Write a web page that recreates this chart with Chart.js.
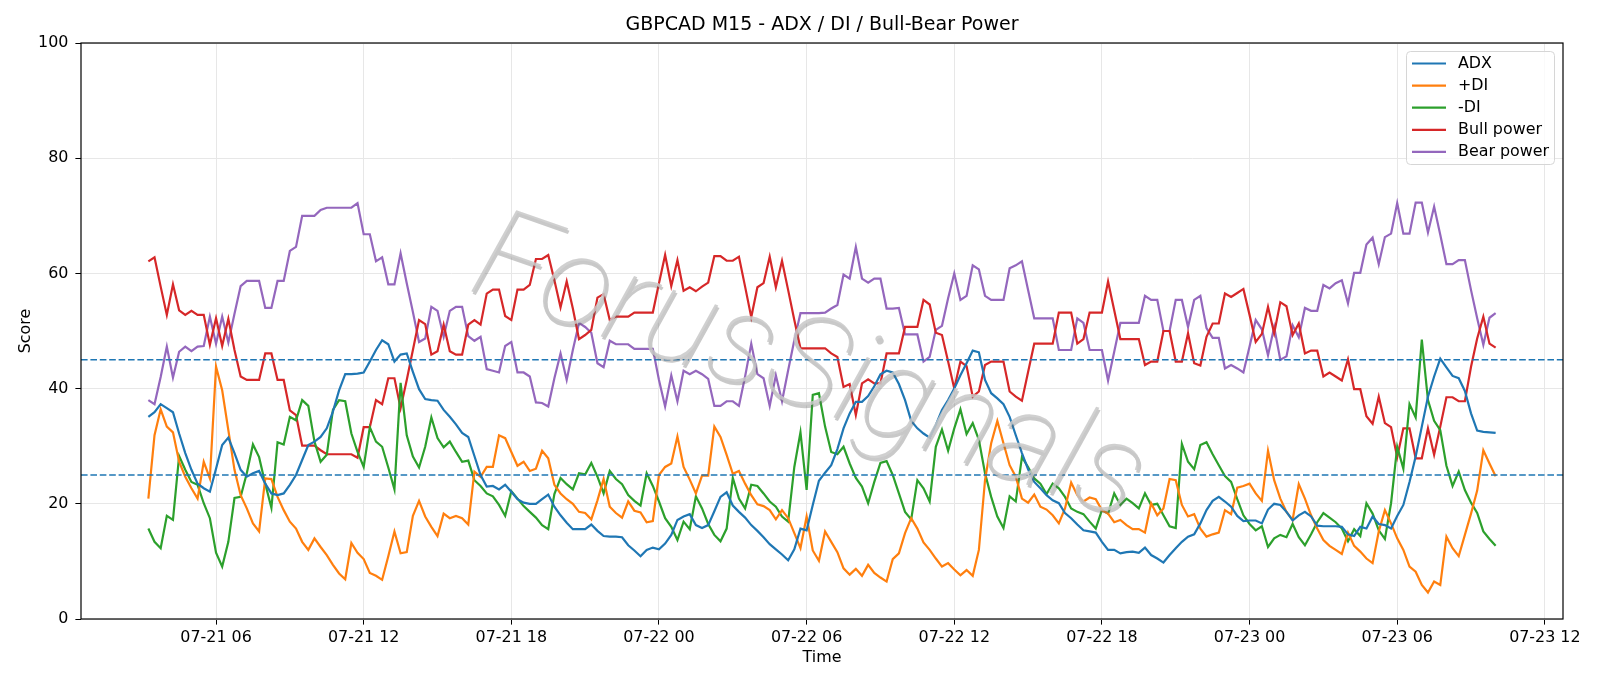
<!DOCTYPE html>
<html>
<head>
<meta charset="utf-8">
<title>GBPCAD M15 - ADX / DI / Bull-Bear Power</title>
<script src="https://cdn.jsdelivr.net/npm/chart.js@4.4.1/dist/chart.umd.min.js"></script>
<style>
  html, body { margin: 0; padding: 0; background: #fff; }
  #wrap { width: 1600px; height: 686px; }
</style>
</head>
<body>
<div id="wrap"><canvas id="chart" width="1600" height="686"></canvas></div>
<script>
// M15 bars, first bar 07-21 03:15, hours counted from 07-21 00:00
const startHour = 3.25;
const stepHour = 0.25;

const adx = [
  35.1, 35.9, 37.3, 36.6, 35.9, 32.2, 28.8, 25.9, 23.5, 22.7, 22.1, 26.1, 30.2, 31.5, 28.8, 25.9, 24.7, 25.3, 25.7, 23.5,
  21.8, 21.5, 21.8, 23.3, 25.0, 27.6, 30.2, 30.8, 31.6, 33.1, 36.0, 39.7, 42.5, 42.5, 42.6, 42.8, 44.7, 46.7, 48.4, 47.7,
  44.7, 45.9, 46.1, 42.9, 39.9, 38.2, 38.0, 37.9, 36.3, 35.1, 33.8, 32.3, 31.6, 28.3, 25.0, 23.0, 23.1, 22.5, 23.3, 22.1,
  20.8, 20.2, 20.0, 20.0, 20.8, 21.6, 19.5, 18.0, 16.7, 15.6, 15.6, 15.6, 16.4, 15.3, 14.4, 14.3, 14.3, 14.2, 12.8, 11.9,
  10.9, 12.0, 12.4, 12.1, 13.1, 14.6, 17.2, 17.8, 18.2, 16.3, 15.8, 16.3, 18.7, 21.2, 22.0, 19.7, 18.6, 17.6, 16.3, 15.3,
  14.2, 13.0, 12.1, 11.2, 10.2, 12.1, 15.7, 15.4, 19.8, 24.0, 25.4, 26.7, 29.5, 33.1, 35.7, 37.7, 37.7, 38.7, 40.4, 42.5,
  43.1, 42.8, 40.8, 38.0, 34.4, 33.1, 32.2, 31.5, 33.7, 36.3, 38.0, 40.0, 42.3, 44.4, 46.6, 46.3, 41.5, 39.2, 38.3, 37.3,
  35.1, 31.9, 28.8, 26.0, 23.8, 22.7, 21.5, 20.6, 20.1, 18.4, 17.5, 16.4, 15.4, 15.2, 15.0, 13.4, 12.0, 12.0, 11.4, 11.6,
  11.7, 11.5, 12.4, 11.1, 10.5, 9.8, 11.1, 12.3, 13.4, 14.3, 14.7, 16.6, 18.9, 20.5, 21.2, 20.4, 19.5, 17.9, 17.0, 17.1,
  17.1, 16.6, 19.0, 20.0, 19.8, 18.6, 17.1, 18.0, 18.6, 17.8, 16.2, 16.1, 16.1, 16.1, 16.0, 14.7, 14.4, 16.0, 15.7, 17.8,
  16.5, 16.3, 15.7, 17.9, 19.8, 23.8, 28.2, 33.4, 38.6, 42.1, 45.2, 43.7, 42.2, 41.8, 39.6, 35.7, 32.7, 32.5, 32.4, 32.3
];

const plusDI = [
  20.9, 31.9, 36.4, 33.4, 32.4, 27.3, 24.7, 22.7, 20.9, 27.3, 24.4, 43.8, 39.7, 32.8, 25.9, 21.5, 19.2, 16.6, 15.2, 24.4,
  24.3, 21.2, 18.9, 16.9, 15.7, 13.4, 12.0, 14.0, 12.5, 11.1, 9.4, 7.9, 6.9, 13.2, 11.5, 10.4, 8.0, 7.5, 6.8, 10.9,
  15.2, 11.4, 11.6, 17.9, 20.5, 17.8, 16.0, 14.4, 18.3, 17.5, 17.9, 17.5, 16.4, 25.6, 24.7, 26.4, 26.4, 31.9, 31.4, 29.0,
  26.6, 27.3, 25.7, 26.1, 29.2, 27.9, 23.3, 21.8, 20.8, 20.0, 18.6, 18.4, 17.3, 20.6, 24.3, 19.5, 18.4, 17.6, 20.4, 18.8,
  18.5, 16.8, 17.0, 25.0, 26.4, 27.0, 31.7, 26.4, 24.2, 21.8, 24.9, 24.9, 33.4, 31.6, 28.5, 25.2, 25.7, 23.5, 21.5, 19.9,
  19.6, 18.9, 17.3, 18.9, 17.5, 14.9, 12.3, 17.8, 11.9, 10.1, 15.2, 13.4, 11.6, 8.8, 7.7, 8.7, 7.5, 9.4, 8.0, 7.2,
  6.5, 10.4, 11.4, 14.9, 17.5, 15.7, 13.3, 12.0, 10.5, 9.1, 9.7, 8.6, 7.6, 8.5, 7.5, 12.0, 24.1, 30.5, 34.4, 30.5,
  26.7, 24.7, 20.9, 20.2, 21.6, 19.5, 19.0, 18.0, 16.6, 19.2, 23.7, 21.5, 20.4, 21.1, 20.8, 18.9, 18.3, 16.8, 17.2, 16.3,
  15.6, 15.6, 15.0, 20.1, 18.0, 19.2, 24.3, 24.1, 19.8, 17.8, 18.2, 15.7, 14.3, 14.7, 15.0, 18.9, 18.2, 22.8, 23.1, 23.5,
  21.8, 20.5, 29.2, 24.1, 20.9, 18.6, 17.2, 23.4, 20.9, 18.0, 15.7, 13.7, 12.7, 12.0, 11.3, 15.0, 12.7, 11.7, 10.5, 9.7,
  15.2, 18.9, 16.6, 14.0, 12.0, 9.1, 8.2, 5.9, 4.6, 6.5, 5.9, 14.3, 12.3, 10.9, 14.6, 18.3, 22.3, 29.3, 27.0, 24.8
];

const minusDI = [
  15.7, 13.4, 12.3, 17.9, 17.2, 28.3, 25.9, 23.8, 23.3, 20.1, 17.5, 11.5, 9.1, 13.4, 21.0, 21.2, 25.3, 30.3, 28.1, 23.5,
  19.3, 30.7, 30.3, 35.1, 34.5, 38.0, 37.0, 30.8, 27.3, 28.5, 36.3, 38.0, 37.8, 32.2, 29.0, 26.4, 33.3, 30.8, 29.9, 26.3,
  22.5, 41.0, 31.9, 28.2, 26.3, 29.9, 35.0, 31.4, 29.8, 30.8, 29.0, 27.3, 27.5, 24.1, 23.1, 21.8, 21.3, 19.8, 17.9, 22.2,
  20.9, 19.6, 18.6, 17.6, 16.3, 15.6, 21.7, 24.5, 23.4, 22.5, 25.3, 25.1, 27.1, 24.7, 21.8, 25.7, 24.3, 23.4, 21.5, 20.5,
  19.7, 25.3, 23.1, 20.4, 17.5, 16.0, 13.7, 16.9, 15.6, 21.3, 19.2, 16.5, 14.6, 13.5, 15.7, 24.5, 20.9, 19.2, 23.3, 23.1,
  21.8, 20.4, 19.5, 17.8, 16.9, 26.4, 32.4, 22.4, 38.9, 39.2, 33.4, 29.0, 28.6, 29.9, 27.0, 24.5, 23.0, 20.1, 23.8, 27.1,
  27.4, 25.0, 21.8, 18.6, 17.3, 24.1, 22.7, 20.4, 29.9, 32.9, 29.2, 33.1, 36.4, 32.1, 34.0, 31.1, 25.3, 21.2, 17.8, 15.8,
  21.3, 20.4, 28.1, 26.4, 24.4, 23.5, 21.7, 23.5, 22.7, 21.2, 19.2, 18.6, 18.2, 16.9, 15.7, 18.9, 18.3, 21.8, 19.8, 20.9,
  20.1, 19.2, 21.8, 19.8, 20.0, 18.0, 16.1, 15.8, 30.4, 27.3, 26.0, 30.2, 30.7, 28.6, 26.7, 24.8, 23.8, 20.8, 18.0, 16.5,
  15.4, 16.1, 12.5, 14.0, 14.6, 14.2, 16.5, 14.2, 12.8, 14.7, 16.8, 18.4, 17.6, 16.8, 15.7, 13.5, 15.6, 14.4, 20.1, 18.3,
  15.4, 13.9, 20.1, 29.9, 26.1, 37.3, 35.0, 48.5, 38.0, 34.4, 32.8, 26.6, 23.1, 25.6, 22.4, 20.2, 18.4, 15.2, 13.9, 12.7
];

const bullPower = [
  62.1, 62.8, 57.7, 52.8, 58.1, 53.6, 52.8, 53.5, 52.8, 52.8, 47.6, 52.2, 47.4, 52.1, 46.7, 42.1, 41.5, 41.5, 41.5, 46.1,
  46.1, 41.5, 41.5, 36.2, 35.4, 30.1, 30.1, 30.1, 29.3, 28.6, 28.6, 28.6, 28.6, 28.6, 28.0, 33.3, 33.3, 38.0, 37.3, 41.8,
  41.8, 36.6, 41.5, 46.7, 51.9, 51.2, 45.9, 46.5, 51.1, 46.5, 45.9, 45.9, 51.1, 51.9, 51.1, 56.5, 57.2, 57.2, 52.6, 51.9,
  57.2, 57.2, 58.0, 62.5, 62.5, 63.2, 58.8, 54.1, 58.6, 53.9, 48.6, 49.3, 50.2, 55.8, 56.4, 51.9, 52.5, 52.5, 52.5, 53.2,
  53.2, 53.2, 53.2, 58.3, 63.2, 57.8, 62.3, 57.0, 57.6, 56.9, 57.7, 58.4, 63.0, 63.0, 62.2, 62.2, 62.9, 57.7, 52.4, 57.6,
  58.3, 62.9, 57.6, 62.2, 57.1, 51.9, 47.0, 47.0, 47.0, 47.0, 47.0, 46.1, 45.5, 40.3, 40.8, 35.4, 40.9, 41.6, 40.9, 40.9,
  46.1, 46.1, 46.1, 50.7, 50.7, 50.7, 55.4, 54.6, 49.7, 49.3, 44.7, 40.0, 44.7, 43.9, 38.6, 39.5, 44.1, 44.7, 44.7, 44.7,
  39.5, 38.6, 37.9, 42.9, 47.8, 47.8, 47.8, 47.8, 53.2, 53.2, 53.2, 47.8, 48.6, 53.2, 53.2, 53.2, 58.6, 53.6, 48.6, 48.6,
  48.6, 48.6, 44.1, 44.7, 44.7, 50.0, 50.0, 44.7, 44.7, 49.6, 44.4, 44.0, 49.0, 51.3, 51.3, 56.5, 55.9, 56.6, 57.3, 52.8,
  48.1, 49.5, 54.2, 49.6, 55.0, 54.3, 49.3, 51.3, 46.1, 46.6, 46.6, 42.1, 42.8, 42.1, 41.4, 45.1, 39.9, 39.9, 35.2, 33.9,
  38.6, 34.0, 33.3, 28.1, 33.1, 33.1, 27.9, 27.9, 33.1, 28.5, 33.4, 38.5, 38.5, 37.8, 37.8, 43.8, 48.7, 52.5, 47.8, 47.1
];

const bearPower = [
  38.0, 37.3, 42.0, 47.3, 41.9, 46.4, 47.3, 46.5, 47.3, 47.4, 52.5, 47.8, 52.5, 48.0, 53.0, 57.8, 58.7, 58.7, 58.7, 54.0,
  54.0, 58.7, 58.7, 63.9, 64.6, 70.0, 70.0, 70.0, 71.0, 71.4, 71.4, 71.4, 71.4, 71.4, 72.2, 66.8, 66.8, 62.1, 62.8, 58.1,
  58.1, 63.5, 58.3, 53.3, 48.1, 48.7, 54.2, 53.5, 49.0, 53.5, 54.2, 54.2, 49.1, 48.3, 49.0, 43.4, 43.1, 42.8, 47.4, 48.1,
  42.8, 42.8, 42.1, 37.6, 37.5, 36.9, 41.8, 46.1, 41.5, 46.7, 51.4, 50.7, 49.7, 44.4, 43.7, 48.3, 47.7, 47.7, 47.7, 46.9,
  46.9, 46.9, 46.9, 41.5, 36.9, 42.3, 37.8, 43.1, 42.5, 43.1, 42.5, 41.7, 37.0, 37.0, 37.8, 37.8, 37.0, 42.1, 47.8, 42.5,
  41.8, 37.0, 42.3, 37.8, 43.2, 48.4, 53.1, 53.1, 53.1, 53.1, 53.2, 53.9, 54.5, 59.8, 59.1, 64.6, 59.1, 58.4, 59.1, 59.1,
  53.9, 53.9, 54.0, 49.4, 49.4, 49.4, 44.7, 45.5, 50.2, 50.9, 55.7, 60.0, 55.4, 56.1, 61.4, 60.7, 56.1, 55.4, 55.4, 55.4,
  60.9, 61.4, 62.1, 57.1, 52.2, 52.2, 52.2, 52.2, 46.7, 46.7, 46.7, 52.2, 51.4, 46.7, 46.7, 46.7, 41.4, 46.4, 51.4, 51.4,
  51.4, 51.4, 56.1, 55.4, 55.4, 50.0, 50.0, 55.4, 55.4, 50.7, 55.4, 56.1, 50.5, 48.8, 48.8, 43.5, 44.1, 43.5, 42.8, 47.3,
  51.9, 50.3, 45.8, 50.7, 45.0, 45.6, 51.0, 48.9, 54.0, 53.5, 53.5, 58.0, 57.4, 58.3, 58.8, 54.8, 60.1, 60.1, 65.0, 66.2,
  61.6, 66.3, 66.9, 72.2, 66.9, 66.9, 72.3, 72.3, 67.1, 71.6, 66.7, 61.6, 61.6, 62.3, 62.3, 57.1, 52.2, 47.6, 52.3, 53.1
];

const seriesNames = ['ADX', '+DI', '-DI', 'Bull power', 'Bear power'];
const seriesColors = ['#1f77b4', '#ff7f0e', '#2ca02c', '#d62728', '#9467bd'];

const xTickHours = [6, 12, 18, 24, 30, 36, 42, 48, 54, 60];
const xTickLabels = ['07-21 06', '07-21 12', '07-21 18', '07-22 00', '07-22 06', '07-22 12', '07-22 18', '07-23 00', '07-23 06', '07-23 12'];
const yTicks = [0, 20, 40, 60, 80, 100];
const levels = [45, 25];

const chartTitle = 'GBPCAD M15 - ADX / DI / Bull-Bear Power';
const watermarkText = 'ForusSignals';

const FONT = '"DejaVu Sans", "Liberation Sans", sans-serif';
const WM_FONT = 'Roboto, "Open Sans", sans-serif';

function toPoints(values) {
  return values.map((v, i) => ({ x: startHour + i * stepHour, y: v }));
}

const allSeries = [adx, plusDI, minusDI, bullPower, bearPower];

// x range padded like matplotlib (5% each side)
const span = (allSeries[0].length - 1) * stepHour;
const xMin = startHour - span * 0.05;
const xMax = startHour + span * 1.05;

const titlePlugin = {
  id: 'topTitle',
  afterDraw(chart) {
    const { ctx, chartArea } = chart;
    ctx.save();
    ctx.font = '19px ' + FONT;
    ctx.fillStyle = '#000';
    ctx.textAlign = 'center';
    ctx.textBaseline = 'middle';
    ctx.fillText(chartTitle, (chartArea.left + chartArea.right) / 2, 25.5);
    ctx.restore();
  }
};

const levelLines = {
  id: 'levelLines',
  afterDatasetsDraw(chart) {
    const { ctx, chartArea } = chart;
    const y = chart.scales.y;
    ctx.save();
    ctx.strokeStyle = '#1f77b4';
    ctx.lineWidth = 1.6;
    ctx.setLineDash([6.6, 2.8]);
    levels.forEach(v => {
      const py = y.getPixelForValue(v);
      ctx.beginPath();
      ctx.moveTo(chartArea.left, py);
      ctx.lineTo(chartArea.right, py);
      ctx.stroke();
    });
    ctx.restore();
  }
};

const watermark = {
  id: 'watermark',
  afterDatasetsDraw(chart) {
    const { ctx, chartArea: a } = chart;
    ctx.save();
    ctx.translate(a.left + (a.right - a.left) * 0.49, a.top + (a.bottom - a.top) * 0.575);
    ctx.rotate(0.335);
    ctx.font = 'italic 100 100px ' + WM_FONT;
    const size = 100 * 700 / ctx.measureText(watermarkText).width;
    ctx.font = 'italic 100 ' + size + 'px ' + WM_FONT;
    ctx.textAlign = 'center';
    ctx.textBaseline = 'middle';
    ctx.fillStyle = 'rgba(100,100,100,0.35)';
    ctx.fillText(watermarkText, 2, 2);
    ctx.fillStyle = 'rgba(200,200,200,0.85)';
    ctx.fillText(watermarkText, 0, 0);
    ctx.restore();
  }
};

const frame = {
  id: 'frame',
  afterDatasetsDraw(chart) {
    const { ctx, chartArea: a } = chart;
    ctx.save();
    ctx.strokeStyle = '#000';
    ctx.lineWidth = 1.2;
    ctx.strokeRect(a.left, a.top, a.right - a.left, a.bottom - a.top);
    ctx.restore();
  }
};

const legendBox = {
  id: 'legendBox',
  afterDraw(chart) {
    const { ctx } = chart;
    const left = 1406, top = 51, right = 1554, bottom = 164, r = 4;
    ctx.save();
    ctx.beginPath();
    ctx.roundRect(left + 0.5, top + 0.5, right - left, bottom - top, r);
    ctx.fillStyle = 'rgba(255,255,255,0.8)';
    ctx.fill();
    ctx.strokeStyle = '#d6d6d6';
    ctx.lineWidth = 1;
    ctx.stroke();
    ctx.font = '15.9px ' + FONT;
    ctx.textBaseline = 'middle';
    ctx.fillStyle = '#000';
    chart.data.datasets.forEach((ds, i) => {
      const y = 63.5 + i * 22.1;
      ctx.strokeStyle = ds.borderColor;
      ctx.lineWidth = 2.2;
      ctx.beginPath();
      ctx.moveTo(1412, y);
      ctx.lineTo(1446, y);
      ctx.stroke();
      ctx.fillText(ds.label, 1458, y);
    });
    ctx.restore();
  }
};

Chart.defaults.font.family = FONT;
Chart.defaults.font.size = 15.9;
Chart.defaults.color = '#000';

new Chart(document.getElementById('chart'), {
  type: 'line',
  data: {
    datasets: allSeries.map((vals, i) => ({
      label: seriesNames[i],
      data: toPoints(vals),
      borderColor: seriesColors[i],
      backgroundColor: seriesColors[i],
      borderWidth: 2.2,
      pointRadius: 0,
      tension: 0,
      fill: false
    }))
  },
  options: {
    responsive: false,
    devicePixelRatio: 1,
    animation: false,
    events: [],
    layout: { padding: { top: 43, right: 37, left: 0, bottom: 0 } },
    plugins: {
      legend: { display: false },
      title: { display: false },
      tooltip: { enabled: false }
    },
    scales: {
      x: {
        type: 'linear',
        min: xMin,
        max: xMax,
        afterBuildTicks(scale) {
          scale.ticks = xTickHours.map(v => ({ value: v }));
        },
        afterFit(scale) { scale.height = 67; },
        ticks: {
          autoSkip: false,
          maxRotation: 0,
          minRotation: 0,
          padding: 4,
          callback: (v, i) => xTickLabels[i]
        },
        grid: { color: '#e7e7e7', lineWidth: 1, tickColor: '#000', tickLength: 5.6, drawTicks: true },
        border: { display: false },
        title: { display: true, text: 'Time', padding: { top: 0, bottom: 18.5 } }
      },
      y: {
        min: 0,
        max: 100,
        afterBuildTicks(scale) {
          scale.ticks = yTicks.map(v => ({ value: v }));
        },
        afterFit(scale) { scale.width = 81; },
        ticks: { padding: 7, callback: v => String(v) },
        grid: { color: '#e7e7e7', lineWidth: 1, tickColor: '#000', tickLength: 5.6, drawTicks: true },
        border: { display: false },
        title: { display: true, text: 'Score', padding: { top: 16.5, bottom: 0 } }
      }
    }
  },
  plugins: [titlePlugin, levelLines, watermark, frame, legendBox]
});
</script>
</body>
</html>
